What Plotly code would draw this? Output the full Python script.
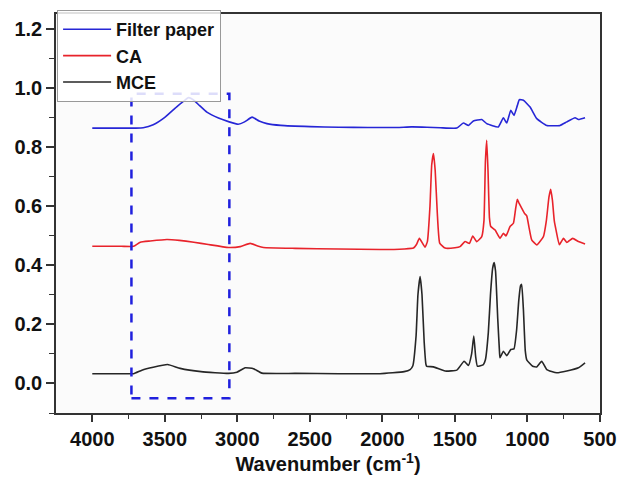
import plotly.graph_objects as go

# ---------------- data ----------------
fp_wn = [4000, 3800, 3700, 3649, 3580, 3500, 3420, 3370, 3337, 3304, 3260, 3210, 3130, 3056, 2994,
         2950, 2898, 2850, 2796, 2700, 2498, 2300, 2100, 1900, 1800, 1694, 1600, 1487, 1442, 1407,
         1373, 1315, 1281, 1201, 1166, 1143, 1115, 1093, 1070, 1056, 1028, 982, 936, 867, 775, 729,
         672, 649, 603]
fp_y = [0.864, 0.864, 0.864, 0.865, 0.875, 0.900, 0.935, 0.955, 0.967, 0.960, 0.940, 0.918, 0.898, 0.885, 0.877,
        0.885, 0.901, 0.888, 0.879, 0.873, 0.869, 0.867, 0.866, 0.866, 0.868, 0.867, 0.865, 0.864, 0.881, 0.873,
        0.888, 0.893, 0.879, 0.868, 0.899, 0.881, 0.924, 0.907, 0.940, 0.960, 0.958, 0.935, 0.896, 0.873, 0.873, 0.885,
        0.899, 0.893, 0.899]

ca_wn = [4000, 3800, 3715, 3669, 3600, 3485, 3400, 3300, 3200, 3061, 2980, 2911, 2860, 2820, 2600,
         2300, 2016, 1850, 1786, 1765, 1745, 1706, 1690, 1672, 1660, 1648, 1636, 1622, 1605, 1568,
         1500, 1465, 1430, 1400, 1377, 1350, 1315, 1300, 1290, 1281, 1272, 1262, 1253, 1223, 1189,
         1166, 1148, 1120, 1097, 1082, 1070, 1058, 1040, 1020, 1005, 990, 971, 936, 890, 870, 852,
         840, 828, 815, 803, 780, 752, 729, 688, 649, 603]
ca_y = [0.464, 0.464, 0.464, 0.478, 0.482, 0.487, 0.484, 0.478, 0.470, 0.460, 0.463, 0.474, 0.465, 0.460, 0.457,
        0.455, 0.453, 0.455, 0.458, 0.470, 0.491, 0.461, 0.480, 0.600, 0.740, 0.778, 0.720, 0.580, 0.475, 0.458,
        0.459, 0.463, 0.480, 0.474, 0.499, 0.480, 0.497, 0.550, 0.750, 0.823, 0.720, 0.560, 0.531, 0.519, 0.491,
        0.508, 0.499, 0.531, 0.542, 0.590, 0.623, 0.610, 0.593, 0.575, 0.567, 0.530, 0.486, 0.469, 0.497, 0.550, 0.630,
        0.657, 0.620, 0.550, 0.519, 0.469, 0.491, 0.477, 0.491, 0.480, 0.472]

mce_wn = [4000, 3800, 3715, 3658, 3580, 3481, 3394, 3250, 3061, 3003, 2946, 2889, 2831, 2600, 2300,
          2016, 1850, 1809, 1790, 1768, 1755, 1740, 1727, 1712, 1700, 1694, 1648, 1568, 1487, 1437,
          1407, 1385, 1370, 1357, 1345, 1304, 1290, 1270, 1255, 1240, 1230, 1220, 1205, 1192, 1189,
          1166, 1143, 1115, 1093, 1075, 1060, 1048, 1040, 1028, 1015, 1005, 964, 936, 902, 867, 798,
          729, 649, 603]
mce_y = [0.033, 0.033, 0.033, 0.045, 0.055, 0.064, 0.051, 0.040, 0.034, 0.038, 0.053, 0.050, 0.035, 0.034, 0.033,
         0.033, 0.040, 0.047, 0.060, 0.160, 0.300, 0.362, 0.300, 0.140, 0.065, 0.058, 0.056, 0.042, 0.045, 0.075,
         0.061, 0.100, 0.160, 0.090, 0.058, 0.064, 0.080, 0.171, 0.300, 0.390, 0.409, 0.380, 0.220, 0.100, 0.087,
         0.109, 0.094, 0.115, 0.117, 0.180, 0.280, 0.330, 0.335, 0.250, 0.110, 0.080, 0.058, 0.056, 0.075, 0.047, 0.036,
         0.042, 0.053, 0.070]

series_names = ["Filter paper", "CA", "MCE"]
series_colors = ["#2626d6", "#e8232b", "#262626"]

x_ticks = [4000, 3500, 3000, 2500, 2000, 1500, 1000, 500]
y_ticks = [0.0, 0.2, 0.4, 0.6, 0.8, 1.0, 1.2]
box_x = [3730, 3055]
box_y = [-0.05, 0.98]

# ---------------- figure ----------------
FONT = "Liberation Sans, Arial, sans-serif"
fig = go.Figure()
for name, xs, ys, col in zip(series_names, [fp_wn, ca_wn, mce_wn], [fp_y, ca_y, mce_y], series_colors):
    fig.add_trace(go.Scatter(x=xs, y=ys, mode="lines", name=name,
                             line=dict(color=col, width=1.6, shape="spline", smoothing=0.4)))

fig.add_shape(type="rect", xref="x", yref="y", x0=box_x[0], x1=box_x[1], y0=box_y[0], y1=box_y[1],
              line=dict(color="#2020dd", width=2.5, dash="dash"), fillcolor="rgba(0,0,0,0)", layer="above")

axis_common = dict(showgrid=False, zeroline=False, showline=True, linecolor="#333333", linewidth=1.5,
                   mirror=True, ticks="outside", tickcolor="#333333", tickwidth=1.5, automargin=False,
                   tickfont=dict(family=FONT, size=20, color="#111111", weight="bold"))

fig.update_xaxes(range=[4250, 500], tickvals=x_ticks, ticklen=7,
                 minor=dict(ticks="outside", ticklen=4, tickcolor="#333333", tickwidth=1.2,
                            tickvals=[3750, 3250, 2750, 2250, 1750, 1250, 750]),
                 title=dict(text="Wavenumber (cm<sup>-1</sup>)",
                            font=dict(family=FONT, size=20, color="#111111", weight="bold"),
                            standoff=4),
                 **axis_common)
fig.update_yaxes(range=[-0.1, 1.25], tickvals=y_ticks, tickformat=".1f", ticklen=8,
                 minor=dict(ticks="outside", ticklen=5, tickcolor="#333333", tickwidth=1.2,
                            tickvals=[-0.1, 0.1, 0.3, 0.5, 0.7, 0.9, 1.1]),
                 **axis_common)

fig.update_layout(
    width=618, height=479,
    margin=dict(l=56, r=18, t=14, b=66, autoexpand=False),
    paper_bgcolor="white", plot_bgcolor="#fbfbfb",
    legend=dict(x=0.002, y=1.01, xanchor="left", yanchor="top",
                bgcolor="rgba(255,255,255,0.85)", bordercolor="#999999", borderwidth=1,
                font=dict(family=FONT, size=18, color="#111111", weight="bold"),
                tracegroupgap=0, itemwidth=48),
    showlegend=True,
)

fig.write_html("out.html", config={"displayModeBar": False},
               post_script="document.body.style.margin='0';document.body.style.overflow='hidden';")
